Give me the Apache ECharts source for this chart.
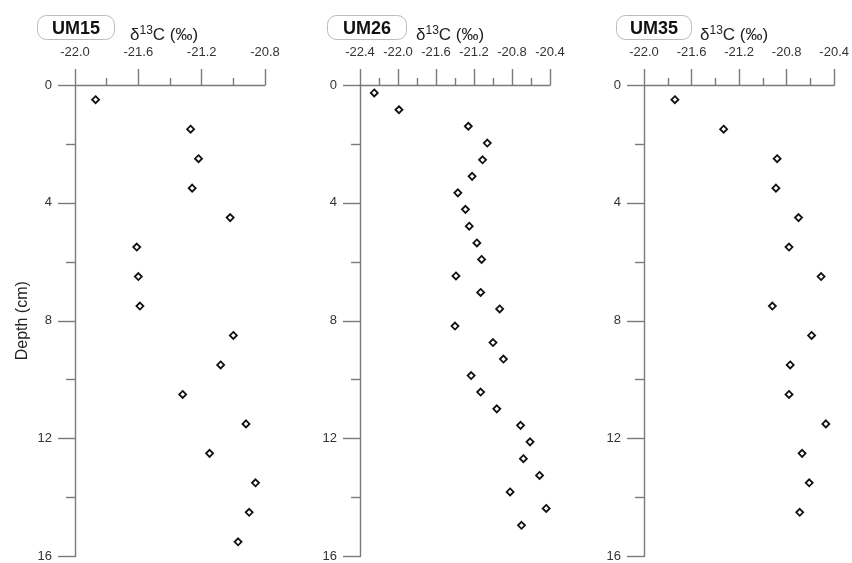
<!DOCTYPE html>
<html>
<head>
<meta charset="utf-8">
<script src="https://cdn.jsdelivr.net/npm/echarts@6/dist/echarts.min.js"></script>
<style>
  html, body { margin: 0; padding: 0; background: #fff; }
  #main { width: 852px; height: 563px; }
</style>
</head>
<body>
<div id="main"></div>
<script>
// core names
const cores = ['UM15', 'UM26', 'UM35'];

// UM15
const depth15 = [0.5, 1.5, 2.5, 3.5, 4.5, 5.5, 6.5, 7.5, 8.5, 9.5, 10.5, 11.5, 12.5, 13.5, 14.5, 15.5];
const d13c15 = [-21.87, -21.27, -21.22, -21.26, -21.02, -21.61, -21.60, -21.59, -21.00, -21.08, -21.32, -20.92, -21.15, -20.86, -20.90, -20.97];

// UM26
const depth26 = [0.27, 0.84, 1.40, 1.97, 2.54, 3.10, 3.66, 4.22, 4.79, 5.36, 5.92, 6.48, 7.04, 7.60,
  8.18, 8.74, 9.30, 9.86, 10.42, 10.99, 11.55, 12.11, 12.68, 13.25, 13.81, 14.37, 14.94];
const d13c26 = [-22.25, -21.99, -21.26, -21.06, -21.11, -21.22, -21.37, -21.29, -21.25, -21.17, -21.12, -21.39, -21.13, -20.93,
  -21.40, -21.00, -20.89, -21.23, -21.13, -20.96, -20.71, -20.61, -20.68, -20.51, -20.82, -20.44, -20.70];

// UM35
const depth35 = [0.5, 1.5, 2.5, 3.5, 4.5, 5.5, 6.5, 7.5, 8.5, 9.5, 10.5, 11.5, 12.5, 13.5, 14.5];
const d13c35 = [-21.74, -21.33, -20.88, -20.89, -20.70, -20.78, -20.51, -20.92, -20.59, -20.77, -20.78, -20.47, -20.67, -20.61, -20.69];

// x ranges per panel
const xMin = [-22.0, -22.4, -22.0];
const xMax = [-20.8, -20.4, -20.4];

let myChart = echarts.init(document.getElementById('main'));

const font = 'Liberation Sans, Arial, sans-serif';
const axisCol = '#7a7a7a';

const grids = [
  { left: 75, top: 85, width: 190, height: 474 },
  { left: 360, top: 85, width: 190, height: 474 },
  { left: 644, top: 85, width: 191, height: 474 }
];
// label boxes and the δ13C heading
const boxLeft = [37, 327, 616];
const boxPadX = [15, 16, 14];
const headLeft = [130, 416, 700];

function pts(d, v) {
  return v.map((x, i) => [x, d[i]]);
}
const seriesData = [pts(depth15, d13c15), pts(depth26, d13c26), pts(depth35, d13c35)];

const xAxes = [], yAxes = [], series = [], titles = [];
for (let i = 0; i < 3; i++) {
  xAxes.push({
    gridIndex: i, type: 'value', position: 'top',
    min: xMin[i], max: xMax[i], interval: 0.4,
    axisLine: { show: true, onZero: false, lineStyle: { color: axisCol, width: 1.4 } },
    axisTick: { show: true, inside: false, length: 16, lineStyle: { color: axisCol, width: 1.4 } },
    minorTick: { show: true, splitNumber: 2, length: 7, lineStyle: { color: axisCol, width: 1.4 } },
    splitLine: { show: false },
    axisLabel: { color: '#333', fontSize: 13, fontFamily: font, margin: 26,
      formatter: v => v.toFixed(1) }
  });
  yAxes.push({
    gridIndex: i, type: 'value', inverse: true,
    min: 0, max: 16, interval: 4,
    name: i === 0 ? 'Depth (cm)' : '',
    nameLocation: 'middle', nameGap: 44,
    nameTextStyle: { color: '#222', fontSize: 16, fontFamily: font },
    axisLine: { show: true, onZero: false, lineStyle: { color: axisCol, width: 1.4 } },
    axisTick: { show: true, inside: false, length: 17, lineStyle: { color: axisCol, width: 1.4 } },
    minorTick: { show: true, splitNumber: 2, length: 9, lineStyle: { color: axisCol, width: 1.4 } },
    splitLine: { show: false },
    axisLabel: { color: '#333', fontSize: 13, fontFamily: font, margin: 23 }
  });
  series.push({
    type: 'scatter', xAxisIndex: i, yAxisIndex: i,
    symbol: 'diamond', symbolSize: 7,
    itemStyle: { color: '#fff', borderColor: '#111', borderWidth: 1.8, opacity: 1 },
    data: seriesData[i]
  });
  titles.push({
    left: boxLeft[i], top: 15,
    text: cores[i],
    padding: [5, boxPadX[i], 1, boxPadX[i]],
    borderColor: '#bbb', borderWidth: 1, borderRadius: 9,
    textStyle: { fontSize: 18, fontWeight: 'bold', color: '#111', fontFamily: font, lineHeight: 19 }
  });
  titles.push({
    left: headLeft[i], top: 25, padding: 0,
    text: '{d|δ}{sup|13}{d|C (‰)}',
    textStyle: {
      rich: {
        d: { fontSize: 17, fontWeight: 'normal', color: '#222', fontFamily: font },
        sup: { fontSize: 12, fontWeight: 'normal', color: '#222', fontFamily: font, padding: [0, 0, 8, 0] }
      }
    }
  });
}

myChart.setOption({
  animation: false,
  title: titles,
  grid: grids,
  xAxis: xAxes,
  yAxis: yAxes,
  series: series
});
</script>
</body>
</html>
